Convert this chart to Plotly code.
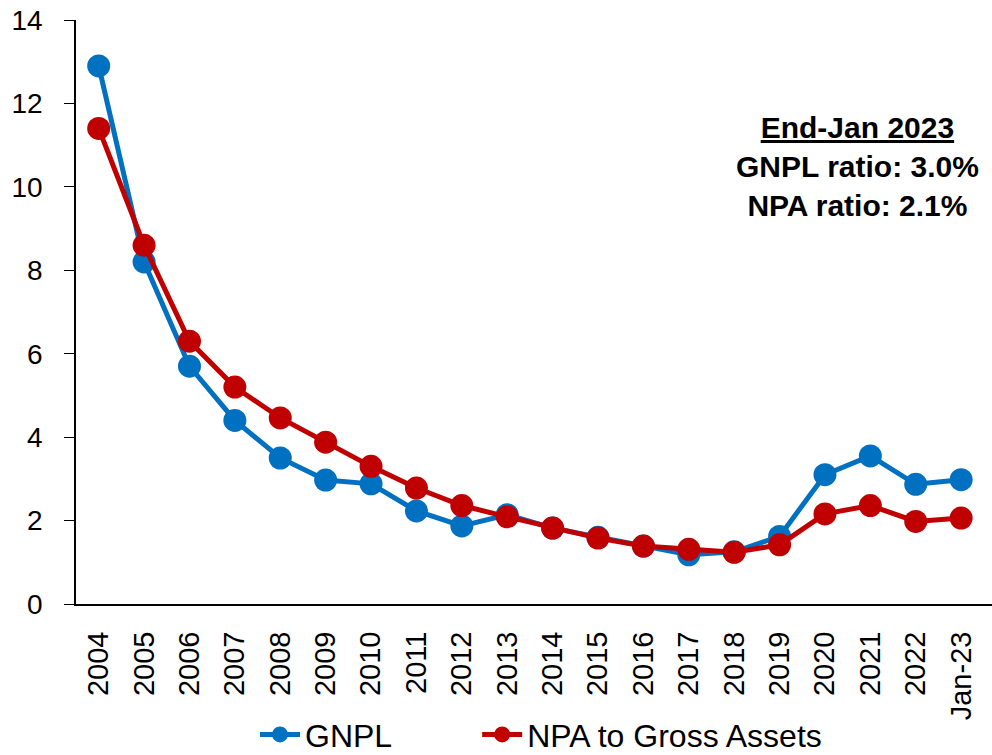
import plotly.graph_objects as go

categories = ["2004", "2005", "2006", "2007", "2008", "2009", "2010", "2011", "2012", "2013",
              "2014", "2015", "2016", "2017", "2018", "2019", "2020", "2021", "2022", "Jan-23"]
gnpl = [12.9, 8.2, 5.7, 4.4, 3.5, 2.97, 2.88, 2.23, 1.87, 2.14,
        1.82, 1.6, 1.39, 1.18, 1.25, 1.62, 3.1, 3.55, 2.87, 2.98]
npa = [11.4, 8.6, 6.3, 5.2, 4.46, 3.88, 3.3, 2.78, 2.36, 2.09,
       1.82, 1.58, 1.39, 1.31, 1.24, 1.42, 2.16, 2.36, 1.98, 2.06]
y_ticks = [0, 2, 4, 6, 8, 10, 12, 14]
series_names = ["GNPL", "NPA to Gross Assets"]

FONT = "Liberation Sans, Arial, sans-serif"
NBSP = "\u00a0"
fig = go.Figure()
fig.add_trace(go.Scatter(x=categories, y=gnpl, name=series_names[0] + NBSP * 9,
                         mode="lines+markers",
                         line=dict(color="#0070C0", width=5),
                         marker=dict(color="#0070C0", size=23)))
fig.add_trace(go.Scatter(x=categories, y=npa, name=series_names[1], mode="lines+markers",
                         line=dict(color="#C00000", width=5),
                         marker=dict(color="#C00000", size=23)))

fig.update_layout(
    width=992, height=755,
    margin=dict(l=76, r=0, t=20, b=151, autoexpand=False),
    plot_bgcolor="white", paper_bgcolor="white",
    font=dict(family=FONT, size=28, color="black"),
    showlegend=True,
    legend=dict(orientation="h", xref="container", yref="container",
                x=255 / 992, xanchor="left", y=0.027, yanchor="middle",
                font=dict(size=32, family=FONT), itemwidth=40,
                bgcolor="rgba(0,0,0,0)"),
    xaxis=dict(type="category", range=[-0.5, 19.68], showline=True, linecolor="black",
               linewidth=2, ticks="", tickangle=-90, showgrid=False, zeroline=False,
               ticklabelstandoff=14, automargin=False,
               tickfont=dict(size=29, family=FONT)),
    yaxis=dict(range=[0, 14], tickvals=y_ticks, showline=True, linecolor="black",
               linewidth=1.5, ticks="outside", ticklen=10, tickcolor="black",
               ticklabelstandoff=16, automargin=False,
               showgrid=False, zeroline=False, tickfont=dict(size=28, family=FONT)),
    annotations=[dict(
        xref="paper", yref="paper", x=0.853, y=0.848, xanchor="center", yanchor="top",
        showarrow=False, align="center",
        text="<b><u>End-Jan 2023</u></b><br><b>GNPL ratio: 3.0%</b><br><b>NPA ratio: 2.1%</b>",
        font=dict(size=30, family=FONT, color="black"))],
)

fig.write_html("out.html")
